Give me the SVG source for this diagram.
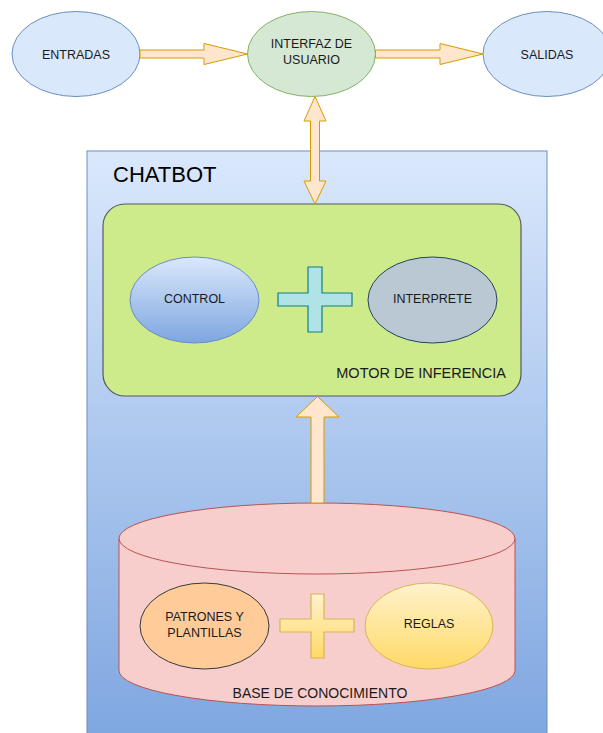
<svg xmlns="http://www.w3.org/2000/svg" width="603" height="733" viewBox="0 0 603 733">
  <defs>
    <linearGradient id="gBlue" x1="0" y1="0" x2="0" y2="1">
      <stop offset="0" stop-color="#dae8fc"/>
      <stop offset="1" stop-color="#7ea6e0"/>
    </linearGradient>
    <linearGradient id="gYellow" x1="0" y1="0" x2="0" y2="1">
      <stop offset="0" stop-color="#fff2cc"/>
      <stop offset="1" stop-color="#ffd966"/>
    </linearGradient>
    <style>
      text { font-family: "Liberation Sans", Arial, sans-serif; fill: #1a1a1a; }
      .lbl { font-size: 12.5px; text-anchor: middle; }
      .big { font-size: 14px; }
      .arrow { fill: #ffe6cc; stroke: #d79b00; stroke-width: 1; stroke-linejoin: miter; }
    </style>
  </defs>

  <!-- chatbot container -->
  <g id="chatbot">
    <rect x="87" y="151" width="460" height="590" fill="url(#gBlue)" stroke="#6c8ebf" stroke-width="1"/>
    <text x="113" y="182" style="font-size:22px;fill:#000">CHATBOT</text>
  </g>

  <!-- top row -->
  <g id="entradas">
    <ellipse cx="76" cy="54" rx="64" ry="42.5" fill="#dae8fc" stroke="#6c8ebf"/>
    <text class="lbl" x="76" y="58.5">ENTRADAS</text>
  </g>
  <g id="interfaz">
    <ellipse cx="311.5" cy="54" rx="64" ry="42.5" fill="#d5e8d4" stroke="#82b366"/>
    <text class="lbl" x="311.5" y="47.5">INTERFAZ DE</text>
    <text class="lbl" x="311.5" y="63.5">USUARIO</text>
  </g>
  <g id="salidas">
    <ellipse cx="547" cy="54" rx="64" ry="42.5" fill="#dae8fc" stroke="#6c8ebf"/>
    <text class="lbl" x="547" y="58.5">SALIDAS</text>
  </g>

  <!-- inference engine -->
  <g id="motor">
    <rect x="103" y="204" width="418" height="192" rx="22" ry="22" fill="#cdeb8b" stroke="#555a5e" stroke-width="1.2"/>
    <text class="big" x="506" y="378" text-anchor="end" style="font-size:14.5px">MOTOR DE INFERENCIA</text>
  </g>
  <g id="control">
    <ellipse cx="194.5" cy="300" rx="64.5" ry="43" fill="url(#gBlue)" stroke="#6c8ebf"/>
    <text class="lbl" x="194.5" y="302.5">CONTROL</text>
  </g>
  <g id="plus1">
    <path d="M308,267 H322 V293 H352 V306 H322 V332 H308 V306 H278 V293 H308 Z" fill="#b0e3e6" stroke="#0e8088" stroke-width="1.2"/>
  </g>
  <g id="interprete">
    <ellipse cx="432.5" cy="300" rx="64.5" ry="43" fill="#bac8d3" stroke="#23445d"/>
    <text class="lbl" x="432.5" y="302.5">INTERPRETE</text>
  </g>

  <!-- knowledge base -->
  <g id="base">
    <path d="M119,538.5 A198,35.5 0 0 1 515,538.5 V670.5 A198,35.5 0 0 1 119,670.5 Z" fill="#f8cecc" stroke="#b85450"/>
    <path d="M119,538.5 A198,35.5 0 0 0 515,538.5" fill="none" stroke="#b85450"/>
    <text class="big" x="320" y="698" text-anchor="middle">BASE DE CONOCIMIENTO</text>
  </g>
  <g id="patrones">
    <ellipse cx="204.5" cy="626" rx="64.5" ry="43" fill="#ffcc99" stroke="#36393d"/>
    <text class="lbl" x="204.5" y="620.5">PATRONES Y</text>
    <text class="lbl" x="204.5" y="636.5">PLANTILLAS</text>
  </g>
  <g id="plus2">
    <path d="M311,594 H324 V619 H354 V632 H324 V658 H311 V632 H280 V619 H311 Z" fill="url(#gYellow)" stroke="#d6b656" stroke-width="1.2"/>
  </g>
  <g id="reglas">
    <ellipse cx="429" cy="626" rx="64" ry="43" fill="url(#gYellow)" stroke="#d6b656"/>
    <text class="lbl" x="429" y="627.5">REGLAS</text>
  </g>

  <!-- connectors -->
  <g id="connectors">
    <path class="arrow" d="M140,50 H204 V43.5 L247.5,54 L204,64.5 V58 H140 Z"/>
    <path class="arrow" d="M375.5,50 H440 V43.5 L483,54 L440,64.5 V58 H375.5 Z"/>
    <path class="arrow" d="M315,96.5 L326,121 H319.5 V181 H326 L315,204 L304,181 H310.5 V121 H304 Z"/>
    <path class="arrow" d="M317.5,396.5 L339,417 H324 V503 H311 V417 H296 Z"/>
  </g>
</svg>
